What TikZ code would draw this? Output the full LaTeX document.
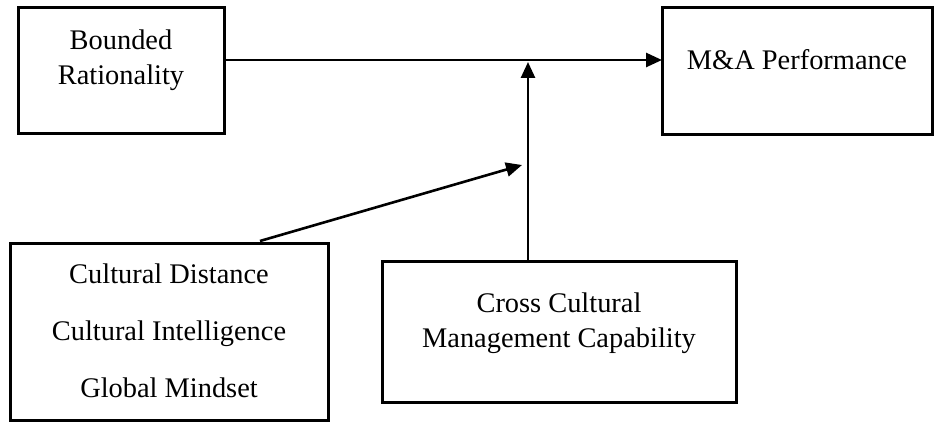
\documentclass[tikz,border=0pt]{standalone}
\usepackage{fontspec}
\setmainfont{Liberation Serif}
\usepackage{tikz}
\usetikzlibrary{arrows.meta,positioning}

\begin{document}
\begin{tikzpicture}[x=1pt,y=1pt,
box/.style={draw,line width=3pt,align=center,anchor=north west,inner xsep=0pt,inner ysep=0pt,outer sep=0pt,font=\fontsize{28.4}{35}\selectfont},
arr/.style={-{Triangle[length=16pt,width=14pt]},line width=2.6pt}]
\useasboundingbox (0,0) rectangle (935,-422);
\node[box,minimum width=206,text height=77,text depth=49] (bounded) at (18,-8) {Bounded\\Rationality};
\node[box,minimum width=270,text height=62,text depth=65] (perf) at (662,-8) {M\&A Performance};
\node[box,minimum width=318,text height=153,text depth=23,font=\fontsize{28.4}{57}\selectfont] (culture) at (10,-244) {Cultural Distance\\Cultural Intelligence\\Global Mindset};
\node[box,minimum width=354,text height=85,text depth=55] (capab) at (382,-262) {Cross Cultural\\Management Capability};
\coordinate (moder) at (528,-62);
\coordinate (mid) at (522,-165);
\draw[arr] ([yshift=11]bounded.east) -- ([yshift=11]bounded.east -| perf.west);
\draw[arr] (capab.north -| moder) -- (moder);
\draw[arr] ([xshift=91,yshift=3]culture.north) -- (mid);
\end{tikzpicture}
\end{document}
